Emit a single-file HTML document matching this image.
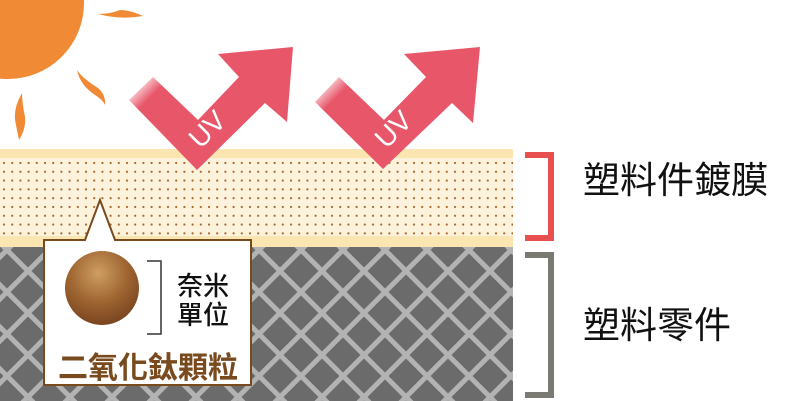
<!DOCTYPE html>
<html><head><meta charset="utf-8"><style>
html,body{margin:0;padding:0;background:#fff;}
body{width:800px;height:401px;overflow:hidden;position:relative;}
svg{position:absolute;left:0;top:0;}
</style></head><body>
<svg width="800" height="401" viewBox="0 0 800 401" xmlns="http://www.w3.org/2000/svg">
<defs>
<pattern id="dots" x="2" y="161" width="8.2" height="8.8" patternUnits="userSpaceOnUse">
<circle cx="2" cy="2" r="1.1" fill="#a8642a"/>
</pattern>
<pattern id="lat" x="7" y="250" width="42" height="42" patternUnits="userSpaceOnUse">
<rect width="42" height="42" fill="#6b6b6b"/>
<path d="M-2,-2 L44,44 M44,-2 L-2,44" stroke="#b3b3b3" stroke-width="5" fill="none"/>
</pattern>
<radialGradient id="ball" cx="0.45" cy="0.3" r="0.7">
<stop offset="0" stop-color="#cf9e62"/>
<stop offset="0.55" stop-color="#a06632"/>
<stop offset="1" stop-color="#7a4520"/>
</radialGradient>
<linearGradient id="fade1" gradientUnits="userSpaceOnUse" x1="135" y1="83" x2="150" y2="98">
<stop offset="0" stop-color="#e8566a" stop-opacity="0.05"/>
<stop offset="1" stop-color="#e8566a" stop-opacity="1"/>
</linearGradient>
<linearGradient id="fade2" gradientUnits="userSpaceOnUse" x1="321" y1="83" x2="336" y2="98">
<stop offset="0" stop-color="#e8566a" stop-opacity="0.05"/>
<stop offset="1" stop-color="#e8566a" stop-opacity="1"/>
</linearGradient>
</defs>

<rect x="0" y="149" width="513" height="10" fill="#fbe5b0"/>
<rect x="0" y="158" width="513" height="78" fill="#fdf3dd"/>
<rect x="0" y="158" width="513" height="78" fill="url(#dots)"/>
<rect x="0" y="236" width="513" height="11" fill="#fbe5b0"/>
<rect x="0" y="247" width="513" height="154" fill="url(#lat)"/>

<circle cx="8" cy="3" r="76" fill="#f08a35"/>
<path d="M98,14 Q120,20 143,16 Q130,10 120,10 Q110,14 98,14 Z" fill="#f08a35"/>
<path d="M77,70 Q80,85 95,95 Q103,100 105,105 Q106,95 98,88 Q82,78 77,70 Z" fill="#f08a35"/>
<path d="M22,93 Q12,110 16,125 Q18,135 19,140 Q28,125 24,112 Q22,100 22,93 Z" fill="#f08a35"/>

<polygon points="153,77 198,120 239,77 218,54 293,47 287,122 265,103 197,170 129,100" fill="url(#fade1)"/>
<polygon points="339,77 384,120 426,77 404,54 480,47 473,123 452,103 383,169 315,102" fill="url(#fade2)"/>
<text x="0" y="0" transform="translate(214,136) rotate(-45)" font-family="Liberation Sans, sans-serif" font-size="28" fill="#fff" text-anchor="middle">UV</text>
<text x="0" y="0" transform="translate(400,136) rotate(-45)" font-family="Liberation Sans, sans-serif" font-size="28" fill="#fff" text-anchor="middle">UV</text>

<path d="M44,240 L85,240 L100,200 L115,240 L251,240 L251,385 L44,385 Z" fill="#fff" stroke="#7a4a1f" stroke-width="2"/>
<circle cx="102" cy="288" r="37" fill="url(#ball)"/>
<path d="M147,261 L161,261 L161,334 L147,334" fill="none" stroke="#333" stroke-width="1.5"/>
<text x="177" y="295" font-family="Liberation Sans, 'Noto Sans CJK TC', sans-serif" font-size="26" font-weight="500" fill="#111">奈米</text>
<text x="177" y="324" font-family="Liberation Sans, 'Noto Sans CJK TC', sans-serif" font-size="26" font-weight="500" fill="#111">單位</text>
<text x="148" y="378" font-family="Liberation Sans, 'Noto Sans CJK TC', sans-serif" font-size="30" font-weight="bold" fill="#7a4a1f" text-anchor="middle">二氧化鈦顆粒</text>

<path d="M525,155 L551,155 L551,238 L525,238" fill="none" stroke="#e8504f" stroke-width="6"/>
<path d="M525,255 L551,255 L551,395 L525,395" fill="none" stroke="#7a7a72" stroke-width="6"/>
<text x="583" y="193" font-family="Liberation Sans, 'Noto Sans CJK TC', sans-serif" font-size="37" fill="#111">塑料件鍍膜</text>
<text x="583" y="338" font-family="Liberation Sans, 'Noto Sans CJK TC', sans-serif" font-size="37" fill="#111">塑料零件</text>
</svg>
</body></html>
